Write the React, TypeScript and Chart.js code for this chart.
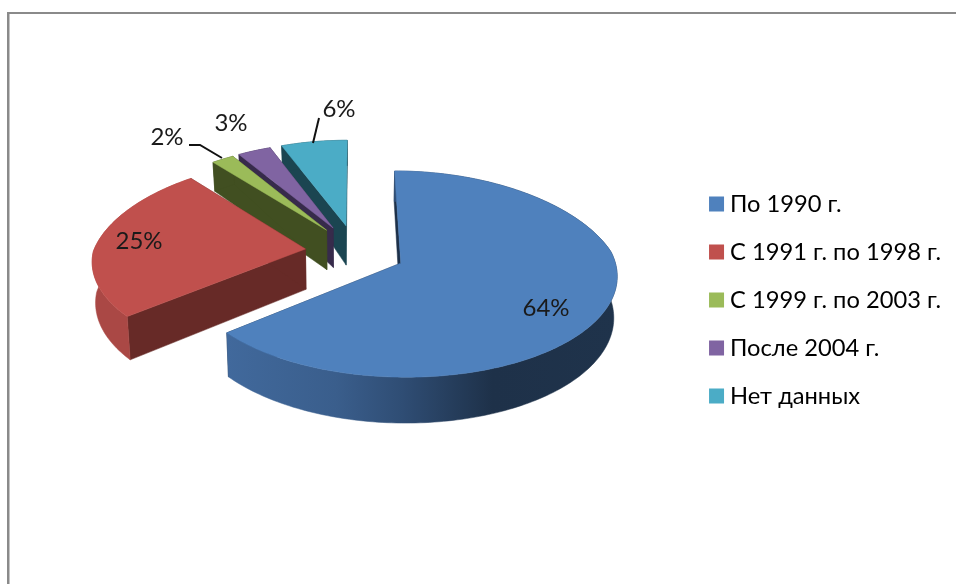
import React, { useEffect, useRef } from "react";
import { Chart, registerables } from "chart.js";

Chart.register(...registerables);

const categories = ["По 1990 г.", "С 1991 г. по 1998 г.", "С 1999 г. по 2003 г.", "После 2004 г.", "Нет данных"];
const shares = [64, 25, 2, 3, 6];
const topColors = ["#4f81bd", "#c0504d", "#9bbb59", "#8064a2", "#4bacc6"];
const faceColors = ["#1d3049", "#672a27", "#414f21", "#372b4b", "#1b4551"];
const rimColors = ["#2a456a", "#aa4845", "#414f21", "#372b4b", "#1b4551"];
const blueRimStops: [number, string][] = [
  [0, "#41699c"],
  [0.28, "#3a5e8c"],
  [0.45, "#2f4d74"],
  [0.68, "#1e3149"],
  [1, "#1f334b"],
];
const labelSpots: [number, number][] = [[546, 308], [139, 241], [167, 137], [231, 123], [339, 109]];
const leaderLines: number[][][] = [[], [], [[189, 145], [200, 145], [222, 158]], [], [[319, 118], [313, 143]]];

const FONT = "Lato, 'Open Sans', sans-serif";
const CAM_X = 355;
const CAM_Y = 251.5;
const RX = 212;
const RY = 99.5;
const TILT = 0.105;
const TILT_REAR_X = 0.16;
const LIFT_Y = 1.15;
const DEPTH = 40.5;
const BASE_SHRINK = 0.013;
const STEP = 0.02;

const project = (u: number, v: number, drop = 0): [number, number] => {
  const w = 1 - TILT * v;
  const wx = v < 0 ? 1 - TILT_REAR_X * v : w;
  const rearFade = v < -0.3 ? 1 + 0.3 * (v + 0.3) : 1;
  const shrink = 1 - (BASE_SHRINK * drop) / DEPTH;
  return [CAM_X + ((RX * u) / wx) * shrink, CAM_Y + (RY * v + drop * rearFade) / w];
};

const pie3d = {
  id: "pie3d",
  beforeDatasetDraw(chart: any) {
    const { ctx } = chart;
    const arcs = chart.getDatasetMeta(0).data;
    for (let i = arcs.length - 1; i >= 0; i--) {
      const el = arcs[i];
      const a0 = el.startAngle;
      const a1 = el.endAngle;
      const mid = (a0 + a1) / 2;
      const ex = ((el.options.offset as number) / RX) * Math.cos(mid);
      const ey = (((el.options.offset as number) / RX) * Math.sin(mid)) * LIFT_Y;
      const rim = (a: number, drop = 0) => project(ex + Math.cos(a), ey + Math.sin(a), drop);
      const apex = (drop = 0) => project(ex, ey, drop);
      const poly = (pts: [number, number][], fill: any) => {
        ctx.beginPath();
        pts.forEach((p, k) => (k ? ctx.lineTo(p[0], p[1]) : ctx.moveTo(p[0], p[1])));
        ctx.closePath();
        ctx.fillStyle = fill;
        ctx.fill();
        ctx.strokeStyle = fill;
        ctx.lineWidth = 0.5;
        ctx.stroke();
      };
      const angles: number[] = [];
      for (let a = a0; a < a1; a += STEP) angles.push(a);
      angles.push(a1);

      poly([apex(), rim(a0), rim(a0, DEPTH), apex(DEPTH)], faceColors[i]);
      poly([apex(), rim(a1), rim(a1, DEPTH), apex(DEPTH)], faceColors[i]);

      const wall = [
        ...angles.map((a) => rim(a)),
        ...angles.slice().reverse().map((a) => rim(a, DEPTH)),
      ];
      let rimFill: any = rimColors[i];
      if (i === 0) {
        const xs = wall.map((p) => p[0]);
        const xEnd = Math.max(...xs);
        const xStart = Math.min(...xs);
        rimFill = ctx.createLinearGradient(xStart, 0, xEnd, 0);
        blueRimStops.forEach(([s, c]) => rimFill.addColorStop(s, c));
      }
      poly(wall, rimFill);

      poly([apex(), ...angles.map((a) => rim(a))], el.options.backgroundColor);
    }

    ctx.save();
    ctx.strokeStyle = "#111111";
    ctx.lineWidth = 2;
    leaderLines.forEach((line) => {
      if (!line.length) return;
      ctx.beginPath();
      line.forEach((p, k) => (k ? ctx.lineTo(p[0], p[1]) : ctx.moveTo(p[0], p[1])));
      ctx.stroke();
    });
    ctx.fillStyle = "#1a1a1a";
    ctx.font = `24px ${FONT}`;
    ctx.textAlign = "center";
    ctx.textBaseline = "middle";
    shares.forEach((s, i) => ctx.fillText(`${s}%`, labelSpots[i][0], labelSpots[i][1]));
    ctx.restore();
    return false;
  },
};

const frame = {
  id: "frame",
  beforeDraw(chart: any) {
    const { ctx, width, height } = chart;
    ctx.save();
    ctx.fillStyle = "#ffffff";
    ctx.fillRect(0, 0, width, height);
    ctx.fillStyle = "#8a8a8a";
    ctx.fillRect(7, 12, 2.5, height - 12);
    ctx.fillRect(7, 12, width - 7, 2);
    ctx.restore();
  },
};

export default function App() {
  const ref = useRef<HTMLCanvasElement>(null);
  useEffect(() => {
    const chart = new Chart(ref.current!, {
      type: "pie",
      plugins: [frame, pie3d],
      data: {
        labels: categories,
        datasets: [{ data: shares, backgroundColor: topColors, offset: 50, radius: RX, borderWidth: 0 } as any],
      },
      options: {
        responsive: false,
        animation: false,
        layout: { padding: { left: 10, right: 5, top: 16, bottom: 0 } },
        plugins: {
          tooltip: { enabled: false },
          legend: {
            position: "right",
            labels: {
              boxWidth: 3.3,
              boxHeight: 3.3,
              padding: 24.3,
              color: "#1a1a1a",
              font: { family: FONT, size: 23.7 },
              generateLabels: (c: any) =>
                c.data.labels.map((text: string, i: number) => ({
                  text,
                  fillStyle: topColors[i],
                  strokeStyle: topColors[i],
                  lineWidth: 11.7,
                  index: i,
                  hidden: false,
                })),
            },
          },
        },
      },
    } as any);
    return () => chart.destroy();
  }, []);
  return (
    <canvas
      ref={ref}
      width={956}
      height={584}
      style={{ position: "absolute", left: 0, top: 0, width: 956, height: 584, filter: "blur(0.4px)" }}
    />
  );
}
